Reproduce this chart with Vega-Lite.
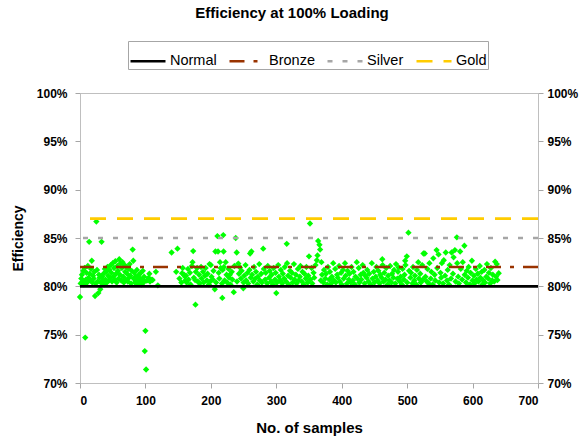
{
  "$schema": "https://vega.github.io/schema/vega-lite/v6.json",
  "autosize": {"type": "none"},
  "padding": {"left": 80, "top": 93, "right": 44, "bottom": 53},
  "width": 458,
  "height": 290,
  "background": "white",
  "config": {
    "view": {"stroke": "#BFBFBF", "strokeWidth": 1},
    "font": "Liberation Sans",
    "axis": {
      "domain": false,
      "grid": false,
      "tickColor": "#A6A6A6",
      "tickSize": 5,
      "labelFont": "Liberation Sans",
      "labelFontSize": 12,
      "labelFontWeight": "bold",
      "labelColor": "#000000",
      "titleFont": "Liberation Sans",
      "titleFontWeight": "bold",
      "titleColor": "#000000"
    }
  },
  "title": {
    "text": "Efficiency at 100% Loading",
    "font": "Liberation Sans",
    "fontSize": 15,
    "fontWeight": "bold",
    "color": "#000000",
    "anchor": "middle",
    "frame": "group",
    "dx": -17,
    "offset": 20
  },
  "layer": [
    {
      "data": {"values": [
        {"sample":0,"eff":78.9},{"sample":1,"eff":80.3},{"sample":2,"eff":80.8},{"sample":3,"eff":81.2},{"sample":4,"eff":80.5},{"sample":5,"eff":81.6},{"sample":6,"eff":80.2},{"sample":7,"eff":81.9},{"sample":8,"eff":74.7},{"sample":9,"eff":80.7},
        {"sample":10,"eff":81.4},{"sample":11,"eff":80.4},{"sample":12,"eff":82.1},{"sample":13,"eff":80.9},{"sample":14,"eff":84.6},{"sample":15,"eff":81.3},{"sample":16,"eff":80.6},{"sample":17,"eff":81.8},{"sample":18,"eff":82.65},{"sample":19,"eff":80.4},
        {"sample":20,"eff":81.1},{"sample":21,"eff":80.8},{"sample":22,"eff":81.5},{"sample":23,"eff":79.0},{"sample":24,"eff":80.3},{"sample":25,"eff":86.7},{"sample":26,"eff":81.7},{"sample":27,"eff":80.5},{"sample":28,"eff":79.3},{"sample":29,"eff":81.2},
        {"sample":30,"eff":80.9},{"sample":31,"eff":79.7},{"sample":32,"eff":80.4},{"sample":33,"eff":84.6},{"sample":34,"eff":81.0},{"sample":35,"eff":80.6},{"sample":36,"eff":81.3},{"sample":37,"eff":80.2},{"sample":38,"eff":81.8},{"sample":39,"eff":80.7},
        {"sample":40,"eff":81.5},{"sample":41,"eff":80.4},{"sample":42,"eff":82.0},{"sample":43,"eff":81.1},{"sample":44,"eff":80.6},{"sample":45,"eff":81.7},{"sample":46,"eff":80.9},{"sample":47,"eff":82.2},{"sample":48,"eff":81.4},{"sample":49,"eff":80.5},
        {"sample":50,"eff":82.4},{"sample":51,"eff":81.0},{"sample":52,"eff":81.9},{"sample":53,"eff":80.7},{"sample":54,"eff":82.6},{"sample":55,"eff":81.3},{"sample":56,"eff":80.4},{"sample":57,"eff":82.1},{"sample":58,"eff":81.6},{"sample":59,"eff":80.8},
        {"sample":60,"eff":82.8},{"sample":61,"eff":81.2},{"sample":62,"eff":82.4},{"sample":63,"eff":80.6},{"sample":64,"eff":81.9},{"sample":65,"eff":82.5},{"sample":66,"eff":81.0},{"sample":67,"eff":80.4},{"sample":68,"eff":82.2},{"sample":69,"eff":81.5},
        {"sample":70,"eff":80.7},{"sample":71,"eff":82.0},{"sample":72,"eff":81.3},{"sample":73,"eff":80.5},{"sample":74,"eff":81.8},{"sample":75,"eff":80.9},{"sample":76,"eff":82.3},{"sample":77,"eff":81.1},{"sample":78,"eff":80.3},{"sample":79,"eff":81.6},
        {"sample":80.5,"eff":83.8},{"sample":81.5,"eff":82.65},{"sample":82,"eff":80.8},{"sample":83,"eff":81.4},{"sample":84,"eff":80.4},{"sample":85,"eff":81.0},{"sample":86,"eff":80.6},{"sample":87,"eff":81.7},{"sample":88,"eff":80.3},{"sample":89,"eff":80.9},
        {"sample":90,"eff":81.2},{"sample":91,"eff":80.5},{"sample":92,"eff":80.8},{"sample":93,"eff":81.4},{"sample":94,"eff":80.2},{"sample":95,"eff":80.7},{"sample":96,"eff":81.6},{"sample":97,"eff":80.4},{"sample":98,"eff":81.0},{"sample":99,"eff":73.3},
        {"sample":100,"eff":75.4},{"sample":101,"eff":71.4},{"sample":102,"eff":80.6},{"sample":103.5,"eff":80.65},{"sample":105,"eff":80.9},{"sample":106,"eff":81.3},{"sample":107,"eff":80.5},{"sample":108.5,"eff":80.65},{"sample":110,"eff":80.7},{"sample":111,"eff":80.65},
        {"sample":116,"eff":81.5},{"sample":119,"eff":80.1},{"sample":140,"eff":83.5},{"sample":147,"eff":81.5},{"sample":149,"eff":83.9},{"sample":152,"eff":80.8},{"sample":155,"eff":80.4},{"sample":156,"eff":81.35},{"sample":157,"eff":81.9},{"sample":159,"eff":81.2},
        {"sample":160.5,"eff":81.0},{"sample":161,"eff":80.6},{"sample":162,"eff":81.1},{"sample":163,"eff":80.4},{"sample":165,"eff":81.8},{"sample":166,"eff":80.7},{"sample":168,"eff":81.4},{"sample":169,"eff":80.2},{"sample":171,"eff":82.1},{"sample":172,"eff":82.5},
        {"sample":173,"eff":83.65},{"sample":174,"eff":80.9},{"sample":176,"eff":80.65},{"sample":176.5,"eff":78.1},{"sample":177,"eff":81.5},{"sample":179,"eff":81.9},{"sample":180,"eff":80.5},{"sample":182,"eff":81.2},{"sample":183,"eff":80.3},{"sample":185,"eff":82.0},
        {"sample":186,"eff":80.8},{"sample":188,"eff":81.5},{"sample":189,"eff":80.4},{"sample":191,"eff":81.1},{"sample":192,"eff":81.9},{"sample":194,"eff":80.6},{"sample":195,"eff":81.3},{"sample":197,"eff":80.2},{"sample":198,"eff":82.3},{"sample":199,"eff":80.5},
        {"sample":200,"eff":82.2},{"sample":201,"eff":81.0},{"sample":203,"eff":80.7},{"sample":204,"eff":81.6},{"sample":206,"eff":79.7},{"sample":207,"eff":83.6},{"sample":208,"eff":80.4},{"sample":210,"eff":85.2},{"sample":211,"eff":83.6},{"sample":212,"eff":81.4},
        {"sample":213,"eff":80.8},{"sample":214,"eff":82.5},{"sample":215,"eff":81.9},{"sample":217,"eff":80.3},{"sample":217.5,"eff":78.8},{"sample":218,"eff":81.7},{"sample":219,"eff":85.3},{"sample":219.5,"eff":83.6},{"sample":220,"eff":82.0},{"sample":221,"eff":80.6},
        {"sample":222.7,"eff":82.5},{"sample":224,"eff":81.2},{"sample":225,"eff":80.4},{"sample":227,"eff":81.8},{"sample":228,"eff":80.9},{"sample":229,"eff":81.2},{"sample":230,"eff":80.2},{"sample":232,"eff":81.5},{"sample":233,"eff":80.7},{"sample":235,"eff":79.4},
        {"sample":236,"eff":82.1},{"sample":238,"eff":85.0},{"sample":239.5,"eff":83.5},{"sample":240,"eff":80.5},{"sample":242,"eff":82.35},{"sample":243,"eff":81.3},{"sample":244.5,"eff":81.95},{"sample":246,"eff":80.8},{"sample":247,"eff":81.6},{"sample":249.6,"eff":79.8},
        {"sample":250,"eff":80.4},{"sample":251,"eff":81.1},{"sample":253,"eff":82.2},{"sample":254,"eff":80.6},{"sample":256,"eff":81.4},{"sample":257,"eff":80.3},{"sample":259,"eff":81.7},{"sample":260,"eff":83.4},{"sample":261,"eff":80.9},{"sample":262,"eff":83.6},
        {"sample":263,"eff":81.2},{"sample":265,"eff":80.5},{"sample":266,"eff":82.0},{"sample":268,"eff":80.8},{"sample":269,"eff":81.5},{"sample":271,"eff":80.2},{"sample":272,"eff":81.0},{"sample":274,"eff":82.3},{"sample":275,"eff":80.6},{"sample":277,"eff":81.3},
        {"sample":278,"eff":80.4},{"sample":280,"eff":83.9},{"sample":281,"eff":81.8},{"sample":283,"eff":80.7},{"sample":284,"eff":81.4},{"sample":286,"eff":80.3},{"sample":287,"eff":82.1},{"sample":289,"eff":80.9},{"sample":290,"eff":81.6},{"sample":292,"eff":80.5},
        {"sample":293,"eff":81.2},{"sample":295,"eff":80.2},{"sample":296,"eff":81.9},{"sample":298,"eff":80.7},{"sample":299,"eff":81.4},{"sample":300,"eff":79.3},{"sample":301,"eff":80.4},{"sample":303,"eff":82.2},{"sample":304,"eff":81.0},{"sample":306,"eff":80.6},
        {"sample":307,"eff":81.7},{"sample":309,"eff":80.3},{"sample":310,"eff":81.3},{"sample":312,"eff":80.8},{"sample":313,"eff":82.0},{"sample":315,"eff":80.5},{"sample":316,"eff":84.4},{"sample":316.5,"eff":82.4},{"sample":318,"eff":81.1},{"sample":319,"eff":80.2},
        {"sample":321,"eff":81.6},{"sample":322,"eff":80.9},{"sample":324,"eff":81.4},{"sample":325,"eff":80.4},{"sample":327,"eff":82.3},{"sample":328,"eff":80.7},{"sample":330,"eff":81.2},{"sample":331,"eff":80.3},{"sample":333,"eff":81.8},{"sample":334,"eff":80.6},
        {"sample":336,"eff":81.0},{"sample":337,"eff":82.1},{"sample":339,"eff":80.5},{"sample":340,"eff":81.5},{"sample":342,"eff":80.2},{"sample":343,"eff":81.3},{"sample":345,"eff":80.8},{"sample":346,"eff":82.0},{"sample":348,"eff":80.4},{"sample":349,"eff":81.1},
        {"sample":350,"eff":83.1},{"sample":351.5,"eff":86.5},{"sample":352,"eff":80.7},{"sample":354,"eff":81.9},{"sample":355,"eff":80.3},{"sample":357,"eff":81.4},{"sample":358,"eff":80.9},{"sample":360,"eff":82.2},{"sample":362,"eff":82.7},{"sample":363,"eff":83.2},
        {"sample":364,"eff":84.7},{"sample":366,"eff":84.3},{"sample":367,"eff":83.8},{"sample":368,"eff":80.6},{"sample":369,"eff":82.5},{"sample":370,"eff":81.2},{"sample":372,"eff":80.4},{"sample":373,"eff":81.7},{"sample":375,"eff":80.8},{"sample":376,"eff":81.3},
        {"sample":378,"eff":80.2},{"sample":379,"eff":82.0},{"sample":381,"eff":80.7},{"sample":382,"eff":81.5},{"sample":384,"eff":80.3},{"sample":385,"eff":81.0},{"sample":387,"eff":82.4},{"sample":388,"eff":80.6},{"sample":390,"eff":81.8},{"sample":391,"eff":80.4},
        {"sample":393,"eff":81.2},{"sample":394,"eff":80.9},{"sample":396,"eff":82.1},{"sample":397,"eff":80.5},{"sample":399,"eff":81.4},{"sample":400,"eff":80.2},{"sample":402,"eff":81.7},{"sample":403,"eff":80.8},{"sample":405,"eff":82.4},{"sample":406,"eff":81.1},
        {"sample":408,"eff":80.3},{"sample":409,"eff":81.6},{"sample":411,"eff":80.7},{"sample":412,"eff":81.3},{"sample":414,"eff":80.4},{"sample":415,"eff":82.0},{"sample":417,"eff":80.6},{"sample":418,"eff":81.5},{"sample":420,"eff":80.2},{"sample":421,"eff":81.0},
        {"sample":423,"eff":82.5},{"sample":424,"eff":80.8},{"sample":426,"eff":81.9},{"sample":427,"eff":80.4},{"sample":429,"eff":81.2},{"sample":430,"eff":80.7},{"sample":432,"eff":82.2},{"sample":433,"eff":81.4},{"sample":435,"eff":80.3},{"sample":436,"eff":81.1},
        {"sample":438,"eff":80.9},{"sample":439,"eff":81.7},{"sample":441,"eff":80.5},{"sample":442,"eff":81.3},{"sample":444,"eff":80.2},{"sample":446,"eff":82.4},{"sample":447,"eff":80.8},{"sample":449,"eff":81.5},{"sample":450,"eff":80.4},{"sample":452,"eff":81.0},
        {"sample":453,"eff":82.0},{"sample":455,"eff":80.6},{"sample":456,"eff":81.6},{"sample":458,"eff":80.3},{"sample":459,"eff":81.2},{"sample":461,"eff":80.9},{"sample":462,"eff":82.8},{"sample":462.5,"eff":82.2},{"sample":464,"eff":80.5},{"sample":465,"eff":81.4},
        {"sample":467,"eff":80.7},{"sample":468,"eff":81.9},{"sample":470,"eff":80.2},{"sample":471,"eff":81.1},{"sample":473,"eff":80.6},{"sample":474,"eff":82.1},{"sample":476,"eff":80.4},{"sample":477,"eff":81.3},{"sample":479,"eff":80.9},{"sample":480,"eff":81.7},
        {"sample":482,"eff":80.3},{"sample":483,"eff":82.3},{"sample":485,"eff":80.8},{"sample":486,"eff":81.5},{"sample":487,"eff":81.95},{"sample":489,"eff":80.5},{"sample":490,"eff":81.0},{"sample":492,"eff":80.2},{"sample":493,"eff":81.8},{"sample":495,"eff":80.7},
        {"sample":496,"eff":81.2},{"sample":497,"eff":82.65},{"sample":497.5,"eff":82.2},{"sample":499.5,"eff":83.1},{"sample":500,"eff":80.4},{"sample":502,"eff":85.55},{"sample":503,"eff":81.6},{"sample":505,"eff":80.9},{"sample":506,"eff":81.4},{"sample":508,"eff":80.3},
        {"sample":509,"eff":82.0},{"sample":511,"eff":80.6},{"sample":512,"eff":81.1},{"sample":514,"eff":80.2},{"sample":515,"eff":81.7},{"sample":517,"eff":82.5},{"sample":518,"eff":80.8},{"sample":520,"eff":81.3},{"sample":521,"eff":80.4},{"sample":523,"eff":82.2},
        {"sample":524,"eff":80.7},{"sample":525,"eff":83.4},{"sample":527,"eff":83.4},{"sample":528,"eff":81.0},{"sample":530,"eff":80.5},{"sample":531,"eff":81.8},{"sample":533,"eff":80.3},{"sample":534,"eff":82.4},{"sample":536,"eff":80.8},{"sample":537,"eff":81.5},
        {"sample":539,"eff":80.2},{"sample":540,"eff":82.9},{"sample":542,"eff":81.2},{"sample":543,"eff":80.6},{"sample":545,"eff":83.75},{"sample":546,"eff":81.9},{"sample":548,"eff":83.3},{"sample":549,"eff":80.4},{"sample":551,"eff":81.4},{"sample":552,"eff":80.9},
        {"sample":553,"eff":82.4},{"sample":555,"eff":80.3},{"sample":556,"eff":82.7},{"sample":558,"eff":81.1},{"sample":559,"eff":83.5},{"sample":561,"eff":80.6},{"sample":562,"eff":81.7},{"sample":564,"eff":80.2},{"sample":565,"eff":82.2},{"sample":567,"eff":80.8},
        {"sample":568,"eff":83.5},{"sample":570,"eff":81.3},{"sample":571,"eff":83.0},{"sample":573,"eff":83.75},{"sample":574,"eff":80.5},{"sample":576,"eff":85.07},{"sample":576.5,"eff":82.4},{"sample":578,"eff":81.0},{"sample":579,"eff":80.3},{"sample":581,"eff":83.6},
        {"sample":582,"eff":81.8},{"sample":584,"eff":80.7},{"sample":585,"eff":82.5},{"sample":587.5,"eff":84.2},{"sample":588,"eff":81.2},{"sample":590,"eff":80.4},{"sample":591,"eff":81.6},{"sample":593,"eff":80.9},{"sample":594,"eff":82.0},{"sample":596,"eff":80.2},
        {"sample":597,"eff":81.4},{"sample":599,"eff":82.65},{"sample":600,"eff":80.6},{"sample":602,"eff":81.1},{"sample":603,"eff":80.3},{"sample":605,"eff":81.8},{"sample":606,"eff":80.7},{"sample":608,"eff":81.3},{"sample":609,"eff":80.5},{"sample":611,"eff":82.1},
        {"sample":612,"eff":80.9},{"sample":614,"eff":81.5},{"sample":615,"eff":80.2},{"sample":616,"eff":80.65},{"sample":618,"eff":81.7},{"sample":619,"eff":80.4},{"sample":621,"eff":81.0},{"sample":622,"eff":82.3},{"sample":624,"eff":80.8},{"sample":625,"eff":81.4},
        {"sample":627,"eff":80.3},{"sample":628,"eff":81.9},{"sample":630,"eff":80.6},{"sample":631,"eff":81.2},{"sample":633,"eff":80.5},{"sample":634.5,"eff":82.55},{"sample":636,"eff":81.0},{"sample":637,"eff":82.3},{"sample":638,"eff":80.65},{"sample":640,"eff":81.35}
      ]},
      "mark": {"type": "point", "shape": "diamond", "filled": true, "color": "#00FF00", "opacity": 1, "size": 40},
      "encoding": {
        "x": {"field": "sample", "type": "quantitative", "scale": {"domain": [0, 700], "nice": false},
              "axis": {"values": [0,100,200,300,400,500,600,700], "title": "No. of samples", "titleFontSize": 15, "labelPadding": 7, "titleY": 44, "titleBaseline": "middle"}},
        "y": {"field": "eff", "type": "quantitative", "scale": {"domain": [70, 100], "nice": false, "zero": false},
              "axis": {"orient": "left", "values": [70,75,80,85,90,95,100], "labelExpr": "datum.value + '%'", "title": "Efficiency", "titleFontSize": 14, "labelPadding": 8, "titleX": -62, "titleY": 145, "titleBaseline": "middle"}}
      }
    },
    {
      "data": {"values": [
        {"level": "Normal", "value": 80},
        {"level": "Bronze", "value": 82},
        {"level": "Silver", "value": 85},
        {"level": "Gold", "value": 87}
      ]},
      "mark": {"type": "rule", "strokeWidth": 2.7},
      "encoding": {
        "y": {"field": "value", "type": "quantitative", "scale": {"domain": [70, 100], "nice": false, "zero": false},
              "axis": {"orient": "right", "values": [70,75,80,85,90,95,100], "labelExpr": "datum.value + '%'", "title": null, "labelPadding": 4}},
        "color": {"field": "level", "type": "nominal",
                  "scale": {"domain": ["Normal","Bronze","Silver","Gold"], "range": ["#000000","#993300","#A6A6A6","#FFCC00"]},
                  "legend": {"title": null, "orient": "none", "direction": "horizontal", "legendX": 48, "legendY": -52,
                             "symbolType": "stroke", "symbolSize": 1225, "symbolStrokeWidth": 2.7,
                             "labelFont": "Liberation Sans", "labelFontSize": 14.5, "labelColor": "#000000", "labelOffset": 3,
                             "columnPadding": 7, "padding": 1, "strokeColor": "#A6A6A6", "fillColor": "white"}},
        "strokeDash": {"field": "level", "type": "nominal",
                       "scale": {"domain": ["Normal","Bronze","Silver","Gold"], "range": [[1,0],[15,9,4,9],[5,10],[16,11]]},
                       "legend": {"title": null}}
      }
    }
  ],
  "resolve": {"axis": {"y": "independent"}}
}
